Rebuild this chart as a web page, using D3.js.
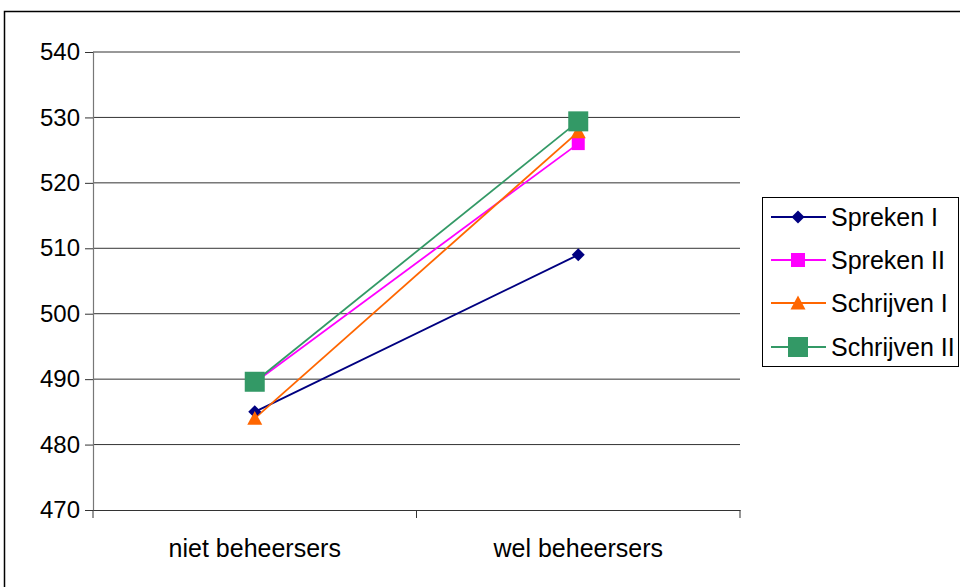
<!DOCTYPE html>
<html><head><meta charset="utf-8">
<script src="https://cdn.jsdelivr.net/npm/d3@7"></script>
<style>
body{margin:0;background:#fff;}
svg{display:block;font-family:"Liberation Sans",Arial,sans-serif;}
</style></head>
<body>
<svg id="c" width="960" height="587"></svg>
<script>
const categories = ["niet beheersers", "wel beheersers"];
const seriesNames = ["Spreken I", "Spreken II", "Schrijven I", "Schrijven II"];
const sprekenI = [485, 509];
const sprekenII = [489.5, 526];
const schrijvenI = [484, 527.8];
const schrijvenII = [489.6, 529.4];
const yTicks = [470, 480, 490, 500, 510, 520, 530, 540];

const seriesValues = [sprekenI, sprekenII, schrijvenI, schrijvenII];
const colors = ["#000080", "#FF00FF", "#FF6600", "#339966"];
const shapes = ["diamond", "square", "triangle", "bigsquare"];

const svg = d3.select("#c");
// outer chart frame (extends beyond the window)
svg.append("rect").attr("x",4.5).attr("y",11.5).attr("width",1000).attr("height",700)
  .attr("fill","none").attr("stroke","#000").attr("stroke-width",1.5);

const L=93, R=740, T=52, B=510;
const x = d3.scaleBand().domain(categories).range([L,R]).padding(0);
const y = d3.scaleLinear().domain([470,540]).range([B,T]);

// gridlines
svg.append("g").selectAll("line").data(yTicks.filter(t=>t!==470)).join("line")
  .attr("x1",L).attr("x2",R).attr("y1",d=>y(d)).attr("y2",d=>y(d))
  .attr("stroke","#333").attr("stroke-width",1);

// y axis
const ya = svg.append("g").attr("transform",`translate(${L},0)`)
  .call(d3.axisLeft(y).tickValues(yTicks).tickSize(8).tickPadding(5).tickFormat(d3.format("d")));
ya.select(".domain").attr("stroke","#777").attr("stroke-width",1.2);
ya.selectAll(".tick line").attr("stroke","#333");
ya.selectAll("text").attr("font-size",24).attr("fill","#000").attr("font-family","Liberation Sans, Arial, sans-serif");

// x axis
const xa = svg.append("g").attr("transform",`translate(0,${B})`)
  .call(d3.axisBottom(x).tickSize(0).tickPadding(29));
xa.select(".domain").attr("stroke","#333").attr("stroke-width",1.2);
xa.selectAll("text").attr("font-size",25).attr("fill","#000").attr("font-family","Liberation Sans, Arial, sans-serif");
// category boundary ticks
svg.append("g").selectAll("line").data([L, L+x.bandwidth(), R]).join("line")
  .attr("x1",d=>d).attr("x2",d=>d).attr("y1",B).attr("y2",B+8)
  .attr("stroke","#333").attr("stroke-width",1);

function marker(g, shape, color, legend){
  if(shape==="diamond"){
    const s=6.5;
    g.append("path").attr("d",`M0,${-s}L${s},0L0,${s}L${-s},0Z`).attr("fill",color);
  } else if(shape==="square"){
    const s=legend?7:6.5;
    g.append("rect").attr("x",-s).attr("y",-s).attr("width",2*s).attr("height",2*s).attr("fill",color);
  } else if(shape==="triangle"){
    const s=7.5;
    g.append("path").attr("d",`M0,${-s}L${s},${s*0.85}L${-s},${s*0.85}Z`).attr("fill",color);
  } else {
    const s=10;
    g.append("rect").attr("x",-s).attr("y",-s).attr("width",2*s).attr("height",2*s).attr("fill",color);
  }
}

const line = d3.line().x((d,i)=>x(categories[i])+x.bandwidth()/2).y(d=>y(d));
seriesValues.forEach((vals,si)=>{
  svg.append("path").datum(vals).attr("d",line).attr("fill","none")
    .attr("stroke",colors[si]).attr("stroke-width",1.8);
});
seriesValues.forEach((vals,si)=>{
  vals.forEach((v,i)=>{
    const g = svg.append("g").attr("transform",`translate(${x(categories[i])+x.bandwidth()/2},${y(v)})`);
    marker(g, shapes[si], colors[si], false);
  });
});

// legend
const lg = svg.append("g");
lg.append("rect").attr("x",762.5).attr("y",197.5).attr("width",196).attr("height",169)
  .attr("fill","#fff").attr("stroke","#000").attr("stroke-width",1);
const rowY = [217, 260, 303, 347];
seriesNames.forEach((n,i)=>{
  lg.append("line").attr("x1",771).attr("x2",826).attr("y1",rowY[i]).attr("y2",rowY[i])
    .attr("stroke",colors[i]).attr("stroke-width",1.8);
  const g = lg.append("g").attr("transform",`translate(798,${rowY[i]})`);
  marker(g, shapes[i], colors[i], true);
  lg.append("text").attr("x",831).attr("y",rowY[i]+9).attr("font-size",25).attr("fill","#000").text(n);
});
</script>
</body></html>
